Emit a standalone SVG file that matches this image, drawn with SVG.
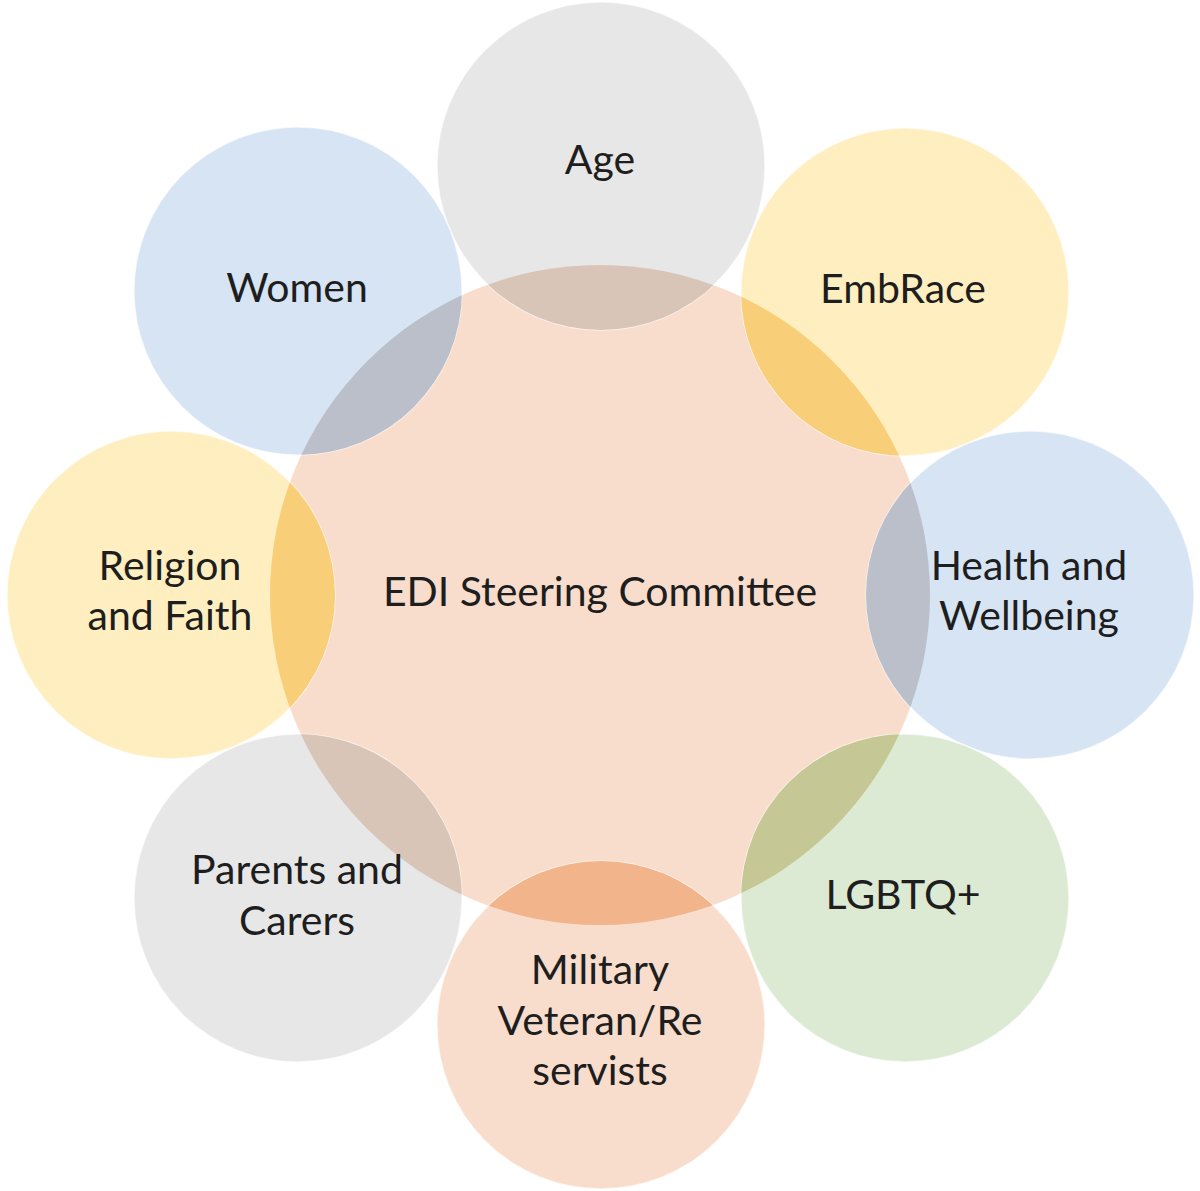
<svg xmlns="http://www.w3.org/2000/svg" width="1200" height="1191" viewBox="0 0 1200 1191">
  <defs>
    <clipPath id="clipCenter">
      <circle cx="600" cy="595" r="330"/>
    </clipPath>
    <style>
      .lbl { font-family: "Lato", "Open Sans", "Liberation Sans", sans-serif; font-size: 41px; fill: #1e1e1e; text-anchor: middle; }
      .ring { stroke: #ffffff; stroke-opacity: 0.6; stroke-width: 1.5; }
      .grey { fill: #E7E7E7; }
      .blue { fill: #D6E4F4; }
      .yellow { fill: #FFEEC0; }
      .peach { fill: #F8DDCC; }
      .green { fill: #DDEAD3; }
      .grey-x { fill: #D9C5B8; }
      .blue-x { fill: #BBBFCA; }
      .yellow-x { fill: #F9CE78; }
      .peach-x { fill: #F2B48B; }
      .green-x { fill: #C5C894; }
    </style>
  </defs>
  <rect width="1200" height="1191" fill="#ffffff"/>

  <g id="center">
    <circle class="peach" cx="600" cy="595" r="330"/>
    <text class="lbl" x="600" y="606">EDI Steering Committee</text>
  </g>

  <g id="age">
    <circle class="grey ring" cx="601" cy="166" r="164"/>
    <circle class="grey-x" cx="601" cy="166" r="164" clip-path="url(#clipCenter)"/>
    <text class="lbl" x="600" y="174">Age</text>
  </g>

  <g id="women">
    <circle class="blue ring" cx="298" cy="291" r="164"/>
    <circle class="blue-x" cx="298" cy="291" r="164" clip-path="url(#clipCenter)"/>
    <text class="lbl" x="297" y="302">Women</text>
  </g>

  <g id="embrace">
    <circle class="yellow ring" cx="905" cy="292" r="164"/>
    <circle class="yellow-x" cx="905" cy="292" r="164" clip-path="url(#clipCenter)"/>
    <text class="lbl" x="903" y="303">EmbRace</text>
  </g>

  <g id="health">
    <circle class="blue ring" cx="1030" cy="595" r="164"/>
    <circle class="blue-x" cx="1030" cy="595" r="164" clip-path="url(#clipCenter)"/>
    <text class="lbl" x="1029" y="580">Health and</text>
    <text class="lbl" x="1029" y="630">Wellbeing</text>
  </g>

  <g id="religion">
    <circle class="yellow ring" cx="171" cy="595" r="164"/>
    <circle class="yellow-x" cx="171" cy="595" r="164" clip-path="url(#clipCenter)"/>
    <text class="lbl" x="170" y="580">Religion</text>
    <text class="lbl" x="170" y="630">and Faith</text>
  </g>

  <g id="parents">
    <circle class="grey ring" cx="298" cy="898" r="164"/>
    <circle class="grey-x" cx="298" cy="898" r="164" clip-path="url(#clipCenter)"/>
    <text class="lbl" x="297" y="884">Parents and</text>
    <text class="lbl" x="297" y="935">Carers</text>
  </g>

  <g id="lgbtq">
    <circle class="green ring" cx="905" cy="898" r="164"/>
    <circle class="green-x" cx="905" cy="898" r="164" clip-path="url(#clipCenter)"/>
    <text class="lbl" x="903" y="909">LGBTQ+</text>
  </g>

  <g id="military">
    <circle class="peach ring" cx="601" cy="1025" r="164"/>
    <circle class="peach-x" cx="601" cy="1025" r="164" clip-path="url(#clipCenter)"/>
    <text class="lbl" x="600" y="984">Military</text>
    <text class="lbl" x="600" y="1035">Veteran/Re</text>
    <text class="lbl" x="600" y="1085">servists</text>
  </g>
</svg>
